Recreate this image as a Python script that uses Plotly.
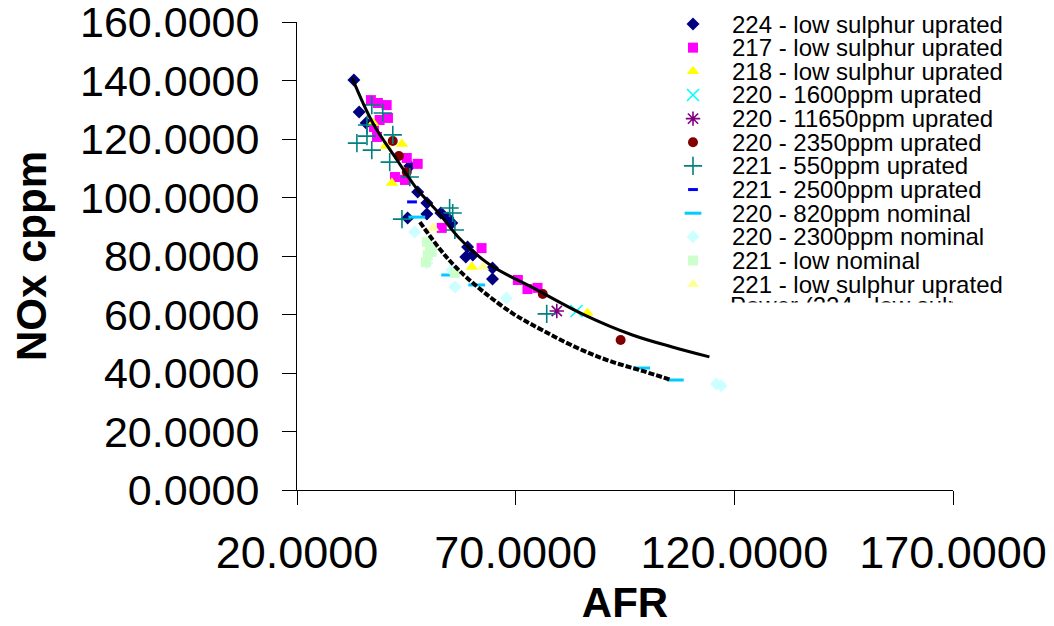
import plotly.graph_objects as go

# ---------------- data ----------------
series_names = [
    "224 - low sulphur uprated",
    "217 - low sulphur uprated",
    "218 - low sulphur uprated",
    "220 - 1600ppm uprated",
    "220 - 11650ppm uprated",
    "220 - 2350ppm uprated",
    "221 - 550ppm uprated",
    "221 - 2500ppm uprated",
    "220 - 820ppm nominal",
    "220 - 2300ppm nominal",
    "221 - low nominal",
    "221 - low sulphur uprated",
]
trend_name = "Power (224 - low sulphur uprated)"

s224_x = [33.0, 34.2, 35.8, 45.8, 47.6, 49.7, 49.7, 45.3, 52.9, 54.5, 55.4, 59.0, 60.2, 58.6, 64.7, 64.7]
s224_y = [140.2, 129.2, 125.5, 110.8, 101.9, 98.1, 94.4, 93.0, 94.7, 93.0, 91.3, 83.1, 80.3, 79.7, 75.9, 72.1]

s217_x = [36.9, 38.5, 40.5, 40.8, 38.9, 37.6, 38.3, 45.1, 47.6, 42.4, 44.7, 53.1, 62.2, 70.5, 72.7, 75.0]
s217_y = [133.3, 132.3, 131.6, 127.2, 126.5, 124.1, 120.7, 113.5, 111.5, 107.0, 106.0, 89.6, 82.7, 71.8, 68.7, 69.1]

s218_x = [37.4, 40.3, 44.0, 41.7, 60.0, 86.4]
s218_y = [125.5, 117.6, 118.3, 105.0, 76.2, 60.5]

s220_1600_x = [83.9]
s220_1600_y = [61.2]

s220_11650_x = [79.4]
s220_11650_y = [61.2]

s220_2350_x = [41.9, 43.3, 45.1, 76.2, 94.0]
s220_2350_y = [119.3, 114.2, 108.7, 67.0, 51.3]

s221_550_x = [37.1, 39.6, 36.0, 36.0, 33.7, 37.1, 41.9, 41.2, 45.8, 44.0, 54.9, 55.6, 56.1, 77.1]
s221_550_y = [131.6, 128.9, 124.8, 121.0, 118.6, 116.2, 121.4, 112.1, 107.0, 92.6, 96.4, 94.7, 88.9, 60.2]

s221_2500_x = [46.3]
s221_2500_y = [98.5]

s220_820_x = [47.4, 54.9, 61.1, 98.8, 106.5]
s220_820_y = [93.3, 73.5, 70.1, 41.7, 37.6]

s220_2300_x = [46.9, 49.7, 55.4, 56.1, 67.9, 115.9, 117.0]
s220_2300_y = [88.2, 77.6, 75.2, 69.4, 65.6, 36.2, 35.6]

s221_low_x = [49.7, 50.4, 49.9, 49.5, 50.8, 56.1]
s221_low_y = [84.8, 82.7, 80.3, 77.9, 81.4, 74.2]

s221_ls_x = [51.1, 62.5]
s221_ls_y = [89.6, 76.2]

# power trendlines
trend_solid_x = [32.6, 37.4, 42.8, 47.4, 52.7, 56.8, 64.1, 73.9, 85.8, 96.7, 105.8, 114.3]
trend_solid_y = [140.9, 125.3, 113.0, 103.0, 94.2, 86.6, 77.0, 69.2, 59.8, 53.0, 48.9, 45.5]

trend_dash_x = [48.1, 52.7, 56.5, 62.5, 69.3, 73.9, 83.9, 91.5, 99.0, 105.6]
trend_dash_y = [91.6, 82.3, 75.9, 67.9, 60.4, 56.4, 48.7, 44.1, 40.7, 37.6]

x_ticks = [20, 70, 120, 170]
y_ticks = [0, 20, 40, 60, 80, 100, 120, 140, 160]

# ---------------- styles ----------------
series_data = [
    (s224_x, s224_y), (s217_x, s217_y), (s218_x, s218_y),
    (s220_1600_x, s220_1600_y), (s220_11650_x, s220_11650_y),
    (s220_2350_x, s220_2350_y), (s221_550_x, s221_550_y),
    (s221_2500_x, s221_2500_y), (s220_820_x, s220_820_y),
    (s220_2300_x, s220_2300_y), (s221_low_x, s221_low_y),
    (s221_ls_x, s221_ls_y),
]

marker_styles = [
    dict(symbol="diamond", color="#000080", size=10),
    dict(symbol="square", color="#FF00FF", size=10),
    dict(symbol="triangle-up", color="#FFFF00", size=11),
    dict(symbol="x-thin-open", color="#00FFFF", size=12, line=dict(color="#00FFFF", width=1.6)),
    dict(symbol="asterisk-open", color="#800080", size=12, line=dict(color="#800080", width=1.6)),
    dict(symbol="circle", color="#800000", size=10),
    dict(symbol="cross-thin-open", color="#008080", size=13, line=dict(color="#008080", width=1.6)),
    dict(symbol="line-ew-open", color="#0000FF", size=7, line=dict(color="#0000FF", width=3)),
    dict(symbol="line-ew-open", color="#00CCFF", size=12, line=dict(color="#00CCFF", width=3)),
    dict(symbol="diamond", color="#CCFFFF", size=10),
    dict(symbol="square", color="#CCFFCC", size=10),
    dict(symbol="triangle-up", color="#FFFF99", size=11),
]

FONT = "Liberation Sans, Arial, sans-serif"

fig = go.Figure()

for name, (xs, ys), ms in zip(series_names, series_data, marker_styles):
    fig.add_trace(go.Scatter(x=xs, y=ys, mode="markers", name=name,
                             marker=ms, showlegend=False, cliponaxis=False))

fig.add_trace(go.Scatter(x=trend_dash_x, y=trend_dash_y, mode="lines",
                         line=dict(color="black", width=4, dash="6px,2px", shape="spline"),
                         showlegend=False))
fig.add_trace(go.Scatter(x=trend_solid_x, y=trend_solid_y, mode="lines", name=trend_name,
                         line=dict(color="black", width=3, shape="spline"),
                         showlegend=False))

# ---------------- manual legend (compact rows like the original) ----------------
L, R, T, B = 297, 953, 22, 490
W, H = 1054, 626
legend_marker_px = 693
legend_text_px = 730
legend_top_px = 24
legend_step_px = 23.65
legend_clip_px = 302.5   # the original legend box cuts its 13th row here

for i, (name, ms) in enumerate(zip(series_names, marker_styles)):
    py = legend_top_px + i * legend_step_px
    fig.add_trace(go.Scatter(x=[legend_marker_px], y=[py], mode="markers",
                             marker=ms, xaxis="x2", yaxis="y2",
                             showlegend=False, hoverinfo="skip", cliponaxis=False))
    fig.add_annotation(x=legend_text_px, y=py, xref="x2", yref="y2",
                       text=name, showarrow=False, xanchor="left", yanchor="middle",
                       font=dict(family=FONT, size=24, color="black"))

# 13th legend row, cut off by the legend box as in the original
py13 = legend_top_px + len(series_names) * legend_step_px
fig.add_trace(go.Scatter(x=[legend_text_px], y=[py13], mode="text", text=[trend_name],
                         textposition="middle right",
                         textfont=dict(family=FONT, size=24, color="black"),
                         xaxis="x3", yaxis="y3", showlegend=False,
                         hoverinfo="skip", cliponaxis=True))

fig.update_layout(
    width=W, height=H,
    margin=dict(l=L, r=W - R, t=T, b=H - B, autoexpand=False),
    paper_bgcolor="white", plot_bgcolor="rgba(0,0,0,0)",
    font=dict(family=FONT, color="black"),
    xaxis=dict(range=[20, 170], tickvals=x_ticks, tickformat=".4f",
               showline=True, linecolor="black", linewidth=1,
               ticks="outside", ticklen=14, tickcolor="black", tickwidth=1,
               showgrid=False, zeroline=False,
               tickfont=dict(family=FONT, size=45),
               ticklabelstandoff=9, ticklabeloverflow="allow",
               title=dict(text="<b>AFR</b>", font=dict(family=FONT, size=42), standoff=14)),
    yaxis=dict(range=[0, 160], tickvals=y_ticks, tickformat=".4f",
               showline=True, linecolor="black", linewidth=1,
               ticks="outside", ticklen=14, tickcolor="black", tickwidth=1,
               showgrid=False, zeroline=False,
               tickfont=dict(family=FONT, size=43),
               ticklabelstandoff=14, ticklabeloverflow="allow",
               title=dict(text="<b>NOx cppm</b>", font=dict(family=FONT, size=42), standoff=20)),
    xaxis2=dict(range=[L, R], overlaying="x", anchor="y2", visible=False, fixedrange=True),
    yaxis2=dict(range=[B, T], overlaying="y", anchor="x2", visible=False, fixedrange=True),
    xaxis3=dict(range=[L, R], domain=[0, 1], anchor="y3", visible=False, fixedrange=True),
    yaxis3=dict(range=[legend_clip_px, T], domain=[(B - legend_clip_px) / (B - T), 1],
                anchor="x3", visible=False, fixedrange=True),
)

fig.write_html("out.html")
